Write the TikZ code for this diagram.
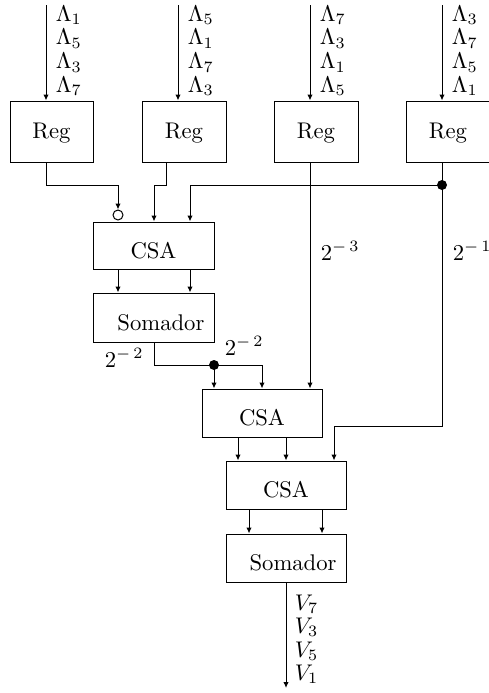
\RequirePackage{fix-cm}
\documentclass[tikz,border=0pt]{standalone}
\usetikzlibrary{arrows.meta,calc}
\begin{document}
\begin{tikzpicture}[x=0.75pt,y=-0.75pt,
  line width=0.75pt,
  every node/.style={inner sep=0pt},
  txt/.style={font=\normalsize, scale=1.7},
  arr/.style={-{Latex[length=4.5pt,width=4pt]}},
  blk/.style={draw, rectangle, minimum height=36pt, minimum width=90pt},
  lbl/.style={txt, anchor=base},
  sig/.style={txt, anchor=base west},
  jdot/.style={circle, fill, minimum size=7.5pt},
  inv/.style={circle, draw, fill=white, minimum size=7.5pt}]
\useasboundingbox (0,0) rectangle (489,693);

% registers
\node[blk, minimum width=62.25pt, minimum height=45.75pt] (reg1) at (51.5,131.5) {};
\node[blk, minimum width=63pt, minimum height=45.75pt] (reg2) at (184,131.5) {};
\node[blk, minimum width=63pt, minimum height=45.75pt] (reg3) at (316,131.5) {};
\node[blk, minimum width=63pt, minimum height=45.75pt] (reg4) at (448,131.5) {};
\foreach \r in {reg1,reg2,reg3,reg4}
  \node[lbl] at ([yshift=-4.9pt]\r.center) {Reg};

% adder tree
\node[blk, minimum width=90.75pt, minimum height=35.25pt] (csa1) at (153.5,245.5) {};
\node[blk, minimum width=90.75pt, minimum height=36.75pt] (som1) at (153.5,317.5) {};
\node[blk] (csa2) at (262,413) {};
\node[blk] (csa3) at (286,485) {};
\node[blk] (som2) at (286,558) {};
\node[lbl] at ([yshift=-9.4pt]csa1.center) {CSA};
\node[lbl] at ([xshift=5.6pt,yshift=-9.4pt]som1.center) {Somador};
\node[lbl] at ([yshift=-9.4pt]csa2.center) {CSA};
\node[lbl] at ([yshift=-9.4pt]csa3.center) {CSA};
\node[lbl] at ([xshift=5.3pt,yshift=-9pt]som2.center) {Somador};

% column coordinates
\coordinate (in1) at (46,5);
\coordinate (in2) at (178,5);
\coordinate (in3) at (310,5);
\coordinate (in4) at (442,5);
\coordinate (b1) at (118,185);
\coordinate (b2a) at (166,185);
\coordinate (b2b) at (154,185);
\coordinate (b3) at (190,185);
\coordinate (b4) at (334,426);
\coordinate (s1) at (154,365);
\coordinate (b5) at (262,365);
\coordinate (p1) at (238,0);
\coordinate (p2) at (286,0);
\coordinate (q1) at (249,0);
\coordinate (q2) at (322,0);
\coordinate (out) at (286,688);

\node[jdot] (d1) at (442,185) {};
\node[jdot] (d2) at (214,365) {};
\node[inv] (neg) at (118,215) {};

% inputs
\foreach \c/\r in {in1/reg1,in2/reg2,in3/reg3,in4/reg4}
  \draw[arr] (\c) -- (\c |- \r.north);

\foreach \c/\a/\b/\e/\f in {in1/1/5/3/7,in2/5/1/7/3,in3/7/3/1/5,in4/3/7/5/1}{
  \node[sig] at ([xshift=6.75pt]\c |- 0,21) {$\Lambda_{\a}$};
  \node[sig] at ([xshift=6.75pt]\c |- 0,44.8) {$\Lambda_{\b}$};
  \node[sig] at ([xshift=6.75pt]\c |- 0,68.6) {$\Lambda_{\e}$};
  \node[sig] at ([xshift=6.75pt]\c |- 0,92.4) {$\Lambda_{\f}$};
}

% register outputs
\draw[arr] (in1 |- reg1.south) |- (b1) -- (neg.north);
\draw[arr] (b2a |- reg2.south) -- (b2a) -- (b2b) -- (b2b |- csa1.north);
\draw (in4 |- reg4.south) -- (d1.center);
\draw[arr] (d1.center) -- (b3) -- (b3 |- csa1.north);
\draw[arr] (in3 |- reg3.south) -- (in3 |- csa2.north);
\draw[arr] (d1.center) |- (b4) -- (b4 |- csa3.north);

% first stage
\draw[arr] (b1 |- csa1.south) -- (b1 |- som1.north);
\draw[arr] (b3 |- csa1.south) -- (b3 |- som1.north);
\draw (b2b |- som1.south) -- (s1) -- (d2.center);
\draw[arr] (d2.center) -- (d2 |- csa2.north);
\draw[arr] (d2.center) -- (b5) -- (b5 |- csa2.north);

% second and third stages
\draw[arr] (p1 |- csa2.south) -- (p1 |- csa3.north);
\draw[arr] (p2 |- csa2.south) -- (p2 |- csa3.north);
\draw[arr] (q1 |- csa3.south) -- (q1 |- som2.north);
\draw[arr] (q2 |- csa3.south) -- (q2 |- som2.north);
\draw[arr] (p2 |- som2.south) -- (out);

% weights
\node[sig] at (104,367) {$2^{-\mkern3mu 2}$};
\node[sig] at (224,355) {$2^{-\mkern3mu 2}$};
\node[sig] at (320,260) {$2^{-\mkern3mu 3}$};
\node[sig] at (452,260) {$2^{-\mkern3mu 1}$};

% outputs
\node[sig] at (294,610) {$V_7$};
\node[sig] at (294,633.5) {$V_3$};
\node[sig] at (294,657) {$V_5$};
\node[sig] at (294,680.5) {$V_1$};
\end{tikzpicture}
\end{document}
